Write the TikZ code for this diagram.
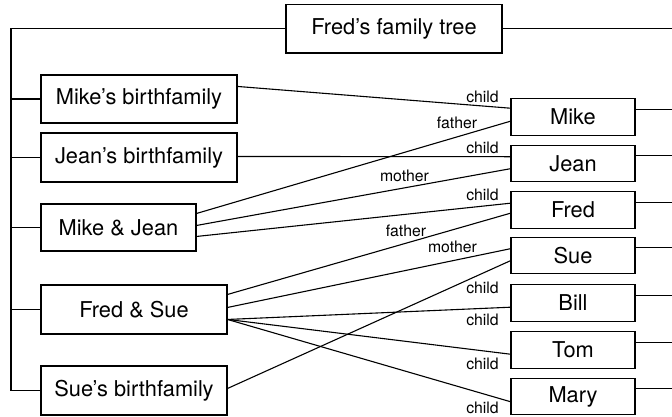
\documentclass[tikz,border=0pt]{standalone}
\usepackage{fontspec}
\setmainfont{TeX Gyre Heros}
\begin{document}
\begin{tikzpicture}[x=1pt,y=-1pt,
  box/.style={draw, line width=1.1pt, inner sep=0pt, anchor=center,
    font=\fontsize{21.8}{26}\selectfont},
  lbox/.style={box, minimum width=196pt, minimum height=48pt},
  rbox/.style={box, minimum width=124pt, minimum height=36.5pt},
  lbl/.style={inner sep=0pt, anchor=center, font=\fontsize{15.8}{18}\selectfont},
  conn/.style={line width=1.1pt}]
\useasboundingbox (0,0) rectangle (672,416);
% left column
\node[box, minimum width=216pt, minimum height=48.5pt] (top) at (394,28.75) {Fred’s family tree};
\node[lbox] (mbf) at (139,99) {Mike’s birthfamily};
\node[lbox, minimum height=49pt] (jbf) at (139,157.5) {Jean’s birthfamily};
\node[lbox, minimum width=155pt, minimum height=47pt] (mj) at (118.5,227.5) {Mike \& Jean};
\node[lbox, minimum width=186pt, minimum height=49pt] (fs) at (134,309.5) {Fred \& Sue};
\node[lbox, minimum width=186pt, minimum height=49pt] (sbf) at (134,390.5) {Sue’s birthfamily};
% right column
\node[rbox] (mike) at (573,117) {Mike};
\node[rbox] (jean) at (573,163.5) {Jean};
\node[rbox] (fred) at (573,210) {Fred};
\node[rbox] (sue)  at (573,255.5) {Sue};
\node[rbox] (bill) at (573,303) {Bill};
\node[rbox] (tom)  at (573,350) {Tom};
\node[rbox] (mary) at (573,396.5) {Mary};
% trunk and edges
\coordinate (trunk) at (11,0);
\coordinate (redge) at (672,0);
\draw[conn] (top.west) -- (top.west -| trunk) |- (sbf.west);
\foreach \n in {mbf,jbf,mj,fs} \draw[conn] (\n.west) -- (\n.west -| trunk);
\draw[conn] (top.east) -- (top.east -| redge);
\foreach \n in {mike,jean,fred,sue,bill,tom,mary} {
  \coordinate (\n R) at ([yshift=-11pt]\n.north east);
  \draw[conn] (\n R) -- (\n R -| redge);
}
% connectors
\draw[conn] ([yshift=-12pt]mbf.north east) -- ([yshift=-10pt]mike.north west);
\draw[conn] ([yshift=-10pt]mj.north east) -- ([yshift=-23pt]mike.north west);
\draw[conn] ([yshift=-24pt]jbf.north east) -- ([yshift=-12pt]jean.north west);
\draw[conn] ([yshift=-22pt]mj.north east) -- ([yshift=-24pt]jean.north west);
\draw[conn] ([yshift=-33pt]mj.north east) -- ([yshift=-12pt]fred.north west);
\draw[conn] ([yshift=-10pt]fs.north east) -- ([yshift=-22pt]fred.north west);
\draw[conn] ([yshift=-23pt]fs.north east) -- ([yshift=-12pt]sue.north west);
\draw[conn] ([yshift=-23pt]sbf.north east) -- ([yshift=-24pt]sue.north west);
\draw[conn] ([yshift=-35pt]fs.north east) -- ([yshift=-23pt]bill.north west);
\draw[conn] ([yshift=-35pt]fs.north east) -- ([yshift=-23pt]tom.north west);
\draw[conn] ([yshift=-35pt]fs.north east) -- ([yshift=-24pt]mary.north west);
% labels
\node[lbl] (l1) at (482.5,97) {child};
\node[lbl] (l2) at (457,123) {father};
\node[lbl] (l3) at (482.5,148) {child};
\node[lbl] (l4) at (404.5,176) {mother};
\node[lbl] (l5) at (482.5,195) {child};
\node[lbl] (l6) at (406,231) {father};
\node[lbl] (l7) at (452.5,247) {mother};
\node[lbl] (l8) at (482.5,288) {child};
\node[lbl] (l9) at (482.5,320) {child};
\node[lbl] (l10) at (482.5,364) {child};
\node[lbl] (l11) at (482.5,408) {child};
\end{tikzpicture}
\end{document}
